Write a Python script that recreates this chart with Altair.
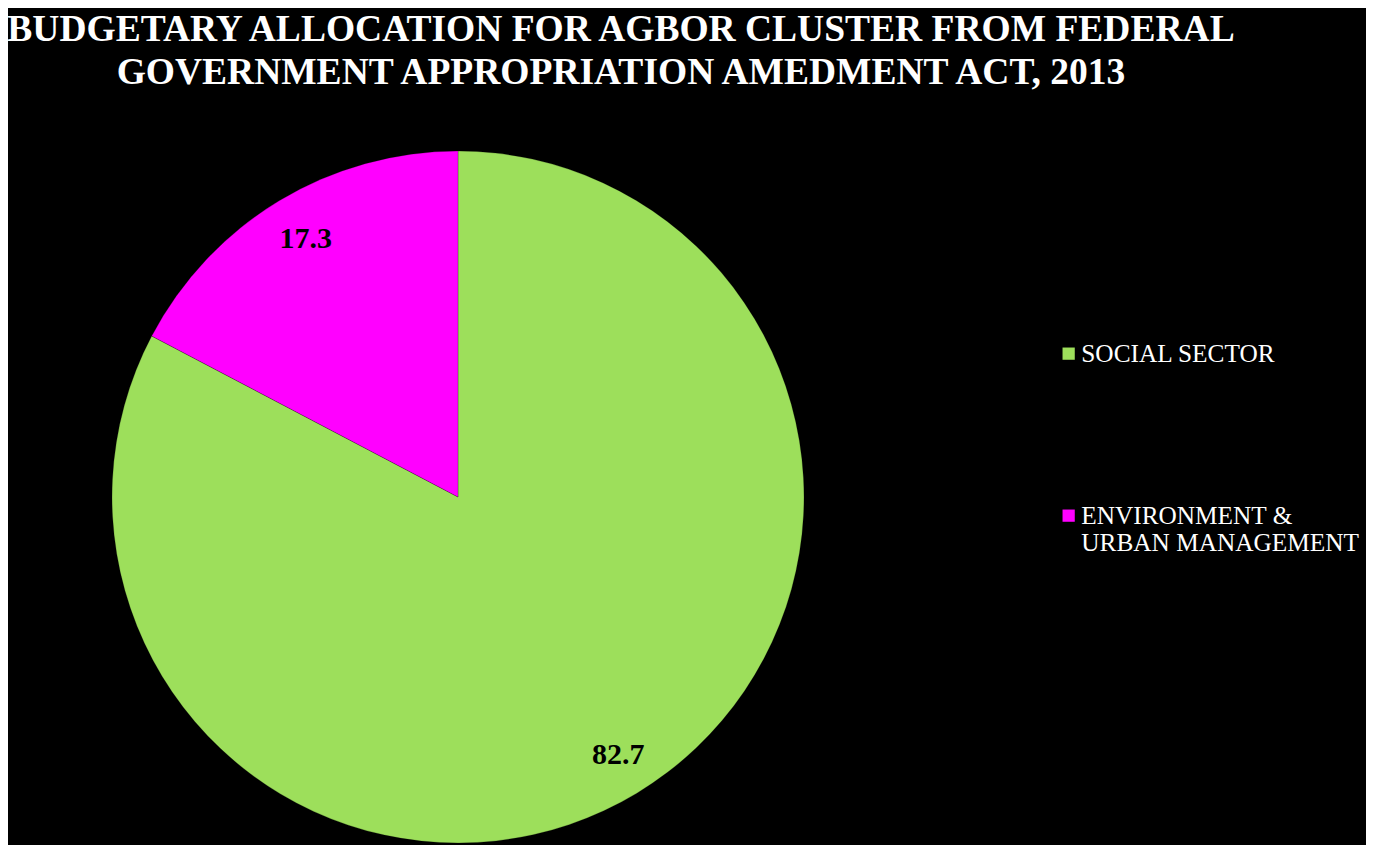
import altair as alt
import pandas as pd

sectors = ["SOCIAL SECTOR", "ENVIRONMENT & URBAN MANAGEMENT"]
shares = [82.7, 17.3]
colors = ["#9DDF5B", "#FF00FF"]
orders = [1, 2]

df = pd.DataFrame({"sector": sectors, "share": shares, "ord": orders})

PAD_TOP = 83
cx, cy = 450, 406

base = alt.Chart(df).encode(
    theta=alt.Theta("share:Q", stack=True),
    order=alt.Order("ord:Q"),
)

arc = base.mark_arc(radius=346, stroke="#000000", strokeWidth=0.6, strokeOpacity=0.35).encode(
    x=alt.value(cx),
    y=alt.value(cy),
    color=alt.Color(
        "sector:N",
        scale=alt.Scale(domain=sectors, range=colors),
        sort=sectors,
        legend=alt.Legend(
            title=None,
            orient="none",
            legendX=1048,
            legendY=250,
            symbolType="square",
            symbolSize=150,
            symbolStrokeWidth=0,
            labelColor="white",
            labelFont="Liberation Serif",
            labelFontSize=25.3,
            labelLimit=400,
            rowPadding=136,
            labelOffset=0,
            labelExpr="datum.label == 'ENVIRONMENT & URBAN MANAGEMENT' ? ['ENVIRONMENT &', 'URBAN MANAGEMENT'] : datum.label",
        ),
    ),
)

labels = base.mark_text(
    radius=302,
    font="Liberation Serif",
    fontSize=30,
    fontWeight="bold",
    color="black",
    dx=4,
).encode(
    x=alt.value(cx),
    y=alt.value(cy),
    text=alt.Text("share:Q", format=".1f"),
)

chart = (
    alt.layer(arc, labels)
    .properties(
        width=1358,
        height=754,
        autosize=alt.AutoSizeParams(type="none"),
        padding={"left": 0, "right": 0, "top": PAD_TOP, "bottom": 0},
        title=alt.TitleParams(
            text=[
                "BUDGETARY ALLOCATION FOR AGBOR CLUSTER FROM FEDERAL",
                "GOVERNMENT APPROPRIATION AMEDMENT ACT, 2013",
            ],
            font="Liberation Serif",
            fontSize=37.5,
            fontWeight="bold",
            color="white",
            lineHeight=43,
            anchor="middle",
            dx=-66,
            offset=0,
        ),
    )
    .configure(background="black")
    .configure_view(stroke=None)
)

chart.save("out.html", embed_options={"renderer": "svg", "actions": False})
